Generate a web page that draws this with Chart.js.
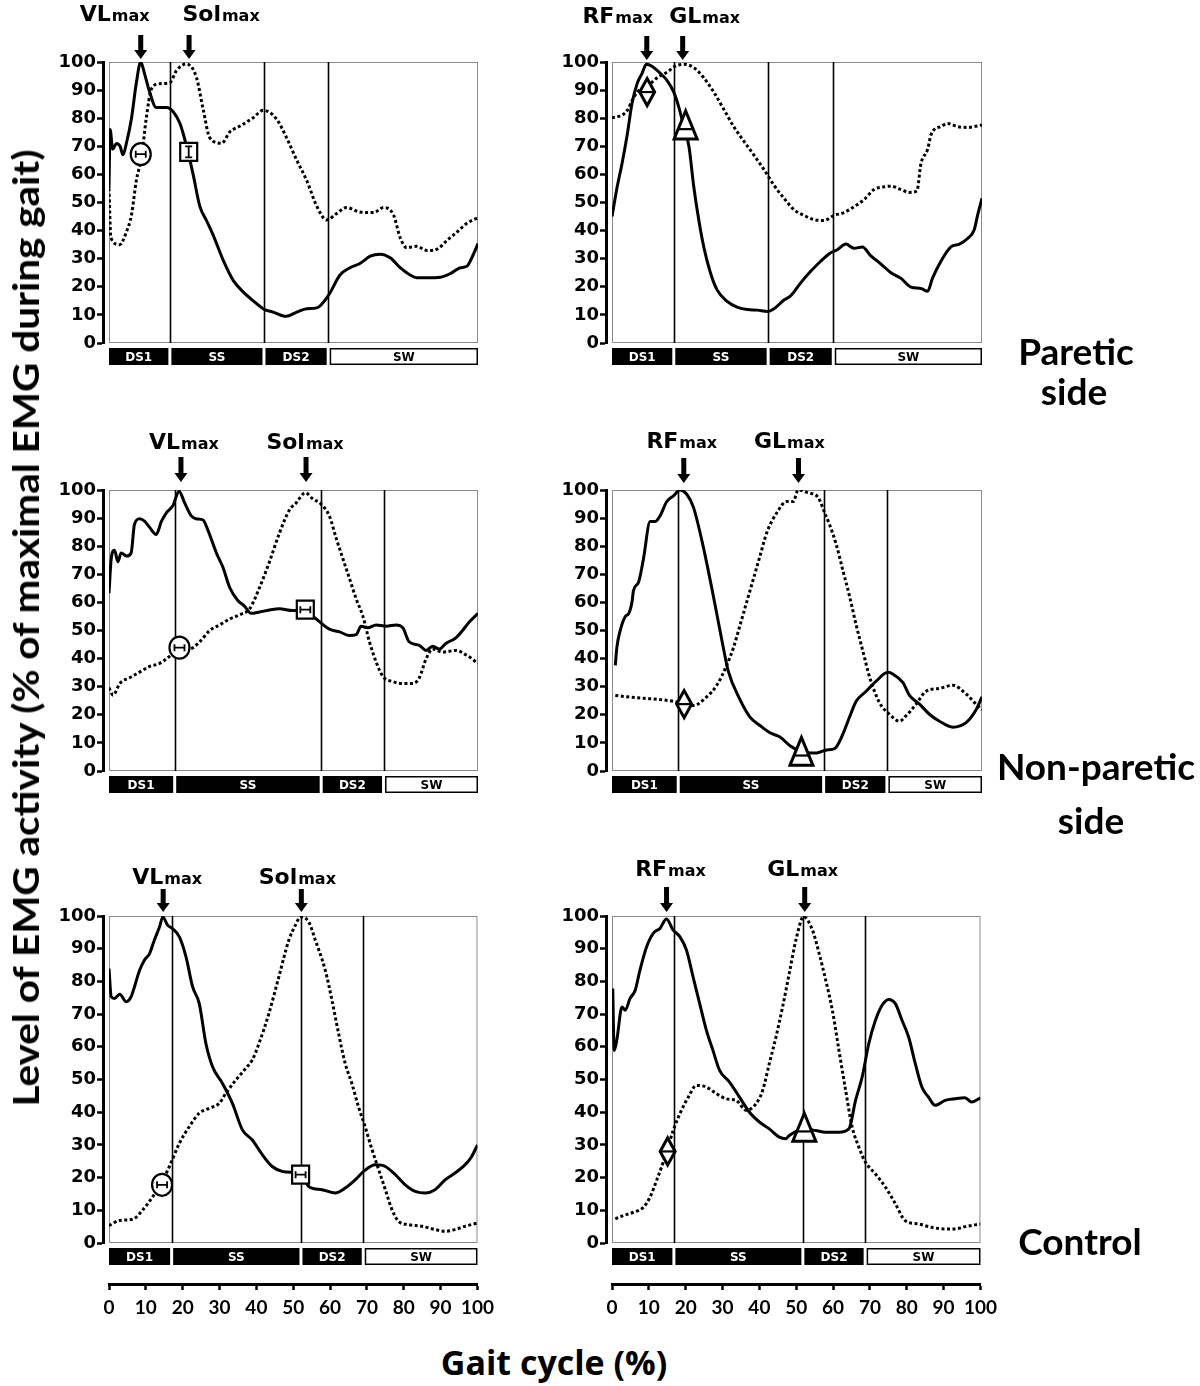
<!DOCTYPE html>
<html lang="en">
<head>
<meta charset="UTF-8">
<title>EMG activity during gait</title>
<script src="https://cdn.jsdelivr.net/npm/chart.js"></script>
<style>
  body { margin: 0; background: #fff; }
  #fig { position: relative; width: 1200px; height: 1386px; overflow: hidden; }
  #fig canvas { position: absolute; }
  .lbl { position: absolute; font-family: Lato, sans-serif; font-weight: 700; color: #000; white-space: nowrap; text-align: center; }
  .side { font-size: 37px; line-height: 40px; width: 240px; }
  #ytitle { font-size: 37px; line-height: 40px; transform-origin: center center; }
  #xtitle { font-family: 'Open Sans', sans-serif; font-size: 34px; line-height: 40px; width: 400px; left: 354px; top: 1342px; }
</style>
</head>
<body>
<div id="fig">
  <canvas id="tl"></canvas>
  <canvas id="tr"></canvas>
  <canvas id="ml"></canvas>
  <canvas id="mr"></canvas>
  <canvas id="bl"></canvas>
  <canvas id="br"></canvas>

  <div class="lbl side" style="left:956px;top:331px">Paretic</div>
  <div class="lbl side" style="left:954px;top:371px">side</div>
  <div class="lbl side" style="left:976px;top:746px">Non-paretic</div>
  <div class="lbl side" style="left:971px;top:800px">side</div>
  <div class="lbl side" style="left:960px;top:1221px">Control</div>

  <div class="lbl" id="ytitle">Level of EMG activity (% of maximal EMG during gait)</div>
  <div class="lbl" id="xtitle">Gait cycle (%)</div>
</div>

<script>
// axis ticks and phase names
const yTickValues = [0, 10, 20, 30, 40, 50, 60, 70, 80, 90, 100];
const xTickValues = [0, 10, 20, 30, 40, 50, 60, 70, 80, 90, 100];
const phaseNames = ['DS1', 'SS', 'DS2', 'SW'];
const leftMuscles = ['VL', 'Sol'];
const rightMuscles = ['RF', 'GL'];

// ---- paretic side ----
const tlVL = [[0,55],[0.3,76],[1,69],[2,71],[3,70],[3.8,67],[4.7,71],[6.1,80],[7.4,92.5],[8.6,100],[9.7,95.5],[11,89.4],[12.8,83.8],[15.6,83.8],[17.4,82.3],[19.2,78.2],[20,75],[21.4,68],[22.8,60],[24.6,48.7],[26.4,43.6],[28.2,38.5],[31,29.3],[33.7,22.2],[36.4,18.1],[39,15.1],[42,12],[44.5,11],[48,9.5],[50.9,11],[53.6,12.2],[56.3,12.5],[59.5,17],[62.6,24.2],[65.3,26.8],[68,28.3],[70.8,30.9],[73.5,31.6],[76.2,30.3],[78.9,26.8],[81.6,24.2],[83.4,23.2],[86.2,23.2],[89.8,23.4],[92.5,24.7],[95.2,26.8],[97,27.3],[98.7,31.4],[100,35.4]];
const tlSol = [[0,55],[0.5,37.5],[2.9,35],[4.7,39.5],[6.1,45.6],[7.4,57.8],[8.8,66],[10.1,80],[11.5,90.4],[13.8,92.3],[16.5,92.7],[18.3,97],[21,99.3],[23.7,94.5],[25.5,83.3],[27.3,73.1],[30.5,71.1],[32.8,75.2],[35.5,77.2],[39.1,80.2],[41.8,82.8],[45.4,79.7],[48.1,73.1],[50.9,65],[53.6,57.8],[56.3,48.7],[59,43.8],[61.7,46.1],[64.4,48.2],[68,46.6],[71.7,46.4],[74.4,48.2],[77.1,45.6],[78.9,37.5],[80.7,33.9],[83.4,34.4],[86.2,32.9],[88.9,33.4],[91.6,36.5],[94.3,39.5],[97,42.6],[100,44.6]];
const tlPhases = [16.5, 42.0, 59.4];
const tlPeaks = [8.6, 21.7];
const tlMarks = [[8.6, 67.2], [21.6, 68]];

const trRF = [[0,45],[1.4,55.6],[2.7,63.8],[4.1,74],[5.4,85.2],[6.8,92.3],[8.1,95.9],[9.3,99.2],[10.8,98.5],[13.1,95.9],[14.9,93.4],[16.7,89.3],[18,84.2],[19.4,77],[20.8,69.9],[22.1,55.6],[23.5,43.4],[24.8,34.2],[26.6,25],[28.4,18.9],[31.1,14.8],[33.8,12.8],[36.6,11.9],[39.3,11.7],[42,11.2],[43.8,12.2],[46.5,15.3],[48.3,16.8],[51,21.4],[53.7,25.5],[56.4,29.1],[59.1,32.1],[60.9,33.2],[63.2,35.2],[65.4,33.7],[67.7,34.2],[69.9,31.1],[72.7,28.1],[75.4,25],[78.1,23],[80.8,19.9],[83.5,19.4],[85.3,18.4],[86.6,23],[88.9,29.1],[91.6,34.2],[93.9,35.2],[96.1,37.2],[97.9,40.3],[98.8,45.4],[100,51.5]];
const trGL = [[0,80.1],[2.7,81.1],[4.1,82.7],[5.4,86.2],[6.8,89.3],[9.5,91.3],[12.2,94.4],[14.9,96.4],[17.1,98.5],[19.4,99.2],[22.1,98],[24.8,94.4],[27.5,89.3],[30.2,83.2],[32.9,77],[35.6,71.9],[38.4,66.8],[41.1,61.7],[43.8,56.1],[46.5,51.5],[49.2,47.4],[51.9,45.4],[54.6,43.9],[57.3,43.6],[60,45.4],[62.7,46.4],[65.4,48.5],[68.1,51],[70.8,54.6],[73.6,55.6],[75.4,55.8],[78.1,54.6],[80.3,53.6],[82.4,54.1],[83.5,63.8],[85.3,68.9],[86.2,74],[87.1,76],[88.9,77],[90.7,78.1],[93.4,77],[96.1,76.7],[100,77.6]];
const trPhases = [16.7, 42.2, 59.8];
const trPeaks = [9.4, 19.1];
const trMarks = [[9.5, 89.3], [19.9, 77.6]];

// ---- non-paretic side ----
const mlVL = [[0,63.3],[0.6,75.5],[1.5,78.6],[2.4,74.5],[3.3,77.6],[4.7,76.5],[6,77.6],[6.9,87.8],[8.3,89.8],[9.7,88.8],[11,86.7],[12.8,84.2],[14.2,88.8],[15.5,91.8],[17.3,94.4],[19,99.5],[20.5,95.4],[22.3,90.8],[23.6,89.8],[25.5,89.3],[26.8,85.7],[29.1,77.6],[30.9,72.4],[32.7,65.3],[34.9,60.7],[36.7,58.7],[38.5,56.1],[40.8,56.6],[43.5,57.3],[46.2,57.7],[49.8,57.1],[53.4,57.3],[55.7,54.6],[57.5,52.6],[59.7,50.5],[62.5,49.5],[65.2,48.2],[67,48.5],[68.3,51.5],[70.1,51],[72.4,52],[75.1,51.5],[77.8,52],[79.6,51],[81.4,45.9],[84.1,44.7],[85.9,42.9],[87.7,44.4],[89.5,43.4],[91.3,45.4],[94,47.4],[95.8,50],[97.7,53.1],[100,56.1]];
const mlSol = [[0,29.6],[1.1,27],[2.9,31.1],[5.6,33.2],[8.3,35.2],[11,37.2],[13.7,38.3],[16.4,40.8],[19,43.9],[21.8,43.4],[24.5,45.9],[27.3,50],[30,52],[32.7,54.1],[35.4,55.6],[38.1,57.7],[40.8,65.3],[43.5,74.5],[46.2,84.7],[48.9,92.9],[50.7,95.4],[53.2,99],[55.2,96.9],[57.5,94.9],[59.7,90.8],[61.6,82.7],[63.4,75.5],[65.2,68.4],[67,61.2],[68.8,55.1],[70.6,45.9],[72.4,38.8],[74.2,33.7],[76.9,31.8],[79.6,31.1],[82.3,31.1],[84.1,33.2],[85.9,39.8],[87.7,43.4],[90.4,42.3],[94,42.9],[96.8,41.3],[100,38.3]];
const mlPhases = [17.8, 57.5, 74.4];
const mlPeaks = [19.5, 53.4];
const mlMarks = [[19.1, 43.9], [53.2, 57.4]];

const mrRF = [[0.9,37.6],[1.3,43.8],[2.2,49.9],[3.6,55],[4.5,56],[5.4,60.1],[5.8,64.2],[7.2,67.3],[8.5,75.5],[10.3,88.8],[11.7,88.8],[13,90.8],[14.8,95.9],[16.6,97.9],[18.4,100],[20.2,98.5],[22,93.9],[24.7,79.6],[27.4,62.2],[30.1,43.8],[31.4,35.6],[34.6,25.4],[37.3,19.2],[40,16.2],[42.7,13.6],[45.4,12.1],[48.1,9],[51,7],[55.3,6.4],[58,7.5],[60.2,8],[62.4,13.1],[64.2,19.2],[66,24.8],[68.7,28.4],[71.4,32],[74.6,35.1],[75.9,34.5],[78.6,31.5],[80.4,26.9],[83.1,23.8],[85.8,20.2],[88.5,17.7],[92.1,15.6],[95.7,17.2],[98.4,21.8],[100,26.4]];
const mrGL = [[0.9,26.9],[4,26.4],[8.5,25.9],[13,25.4],[16.6,24.8],[19.5,23.8],[22,23.3],[25.6,26.4],[28.3,30.5],[31,37.6],[32.8,43.8],[34.6,51.9],[36.4,60.1],[38.2,68.3],[40,76.5],[41.8,84.7],[44.5,91.8],[47.2,95.9],[49,95.9],[50.3,100],[53,99],[55.7,97.4],[57.5,91.8],[58.8,87.7],[60.6,80.6],[62.4,71.4],[64.2,62.2],[66,51.9],[67.8,42.7],[69.6,33.5],[72.3,24.3],[75,20.2],[77.7,17.7],[79.5,19.7],[82.2,23.8],[84.9,28.4],[88.5,29.4],[92.1,30.5],[95.7,27.4],[98.4,23.8],[100,21.8]];
const mrPhases = [17.9, 57.2, 74.3];
const mrPeaks = [19.4, 50.4];
const mrMarks = [[19.5, 23.8], [51.2, 7]];

// ---- control ----
const blVL = [[0,83.9],[0.6,75.3],[1.5,74.8],[2.9,76.1],[4.7,73.8],[6,75.3],[6.9,78.3],[8.3,83.4],[9.6,86.5],[11,88.5],[12.3,92.6],[13.7,96.6],[14.6,99.7],[15.9,97.2],[17.3,96.1],[19.1,93.6],[20.9,87.5],[22.7,78.3],[24.5,73.2],[26.3,61],[28.1,53.9],[30.8,48.8],[33.5,42.7],[36.2,34.6],[38.9,31.5],[41.6,27],[44.3,23.4],[47,21.9],[49.7,21.6],[52,21.4],[54.2,17.3],[57.8,16.3],[61.4,15.3],[64.1,16.8],[66.8,19.3],[69.1,21.9],[72.3,23.9],[75,23.4],[77.7,20.9],[80.4,17.8],[83.1,15.8],[85.8,15.3],[88.5,16.3],[91.2,19.3],[93.9,21.4],[96.6,23.9],[98.4,26.4],[100,30]];
const blSol = [[0,5.3],[2.9,6.9],[6.5,7.3],[9.2,10.2],[11.9,14.2],[13.7,17.3],[16.4,23.4],[19.1,30.5],[21.8,35.6],[24.5,39.7],[27.2,41.2],[29.9,42.7],[31.7,45.8],[34.4,49.8],[37.1,53.4],[38.9,56],[40.7,61],[43.4,70.2],[46.1,81.4],[48.8,92.6],[50.6,97.2],[52,99.7],[54.2,98.2],[56,92.6],[58.7,83.4],[60.5,74.3],[62.3,64.1],[64.1,54.9],[65.9,48.8],[67.7,41.7],[69.5,35.6],[71.4,28.5],[73.2,22.4],[75,16.3],[76.8,10.2],[78.6,6.6],[81.3,5.6],[84.9,5.1],[88.5,4.1],[91.2,3.6],[93.9,4.1],[96.6,5.1],[100,6.1]];
const blPhases = [17.0, 52.1, 69.0];
const blPeaks = [14.7, 52.2];
const blMarks = [[14.4, 17.8], [52, 20.9]];

const brRF = [[0.2,77.8],[0.6,58.9],[1.3,62],[2.7,72.2],[3.6,71.2],[4.9,74.8],[6.3,77.3],[7.6,83.5],[9.4,90.6],[11.2,94.7],[13,96.2],[14.8,99.1],[16.6,95.7],[18.4,93.7],[20.2,89.6],[22,81.4],[23.8,73.2],[25.6,65.1],[27.4,58.9],[29.2,52.8],[31.9,49.2],[34.6,44.6],[37.3,40],[40,37],[42.7,34.9],[45.4,32.4],[47.2,31.9],[48.1,32.9],[52.2,34.9],[55.3,34.4],[58,33.9],[61.6,33.9],[64.3,34.9],[66.1,43.6],[67.9,50.8],[69.7,61],[71.5,68.1],[73.3,72.7],[75.1,74.5],[76.9,73.2],[78.7,68.1],[80.5,63],[82.3,54.9],[84.1,47.7],[85.9,44.6],[87.7,42.1],[90.4,43.6],[93.1,44.1],[95.8,44.4],[97.6,43.1],[100,44.4]];
const brGL = [[0.9,7.4],[3.1,8.4],[5.8,9.4],[8.5,10.9],[10.3,14],[12.1,19.1],[13.9,24.7],[14.8,27.8],[16.6,34.4],[18.4,39.5],[20.7,44.6],[22.9,48.2],[25.6,47.7],[28.3,45.7],[31,44.1],[33.7,43.6],[36.4,40.6],[39.1,42.6],[40.9,46.7],[42.7,54.9],[44.5,63],[46.3,72.2],[48.1,82.4],[49.9,92.6],[52,99.8],[54.4,95.7],[56.2,88.6],[58,80.4],[59.8,71.2],[61.6,58.9],[63.4,46.7],[65.2,35.4],[67,29.3],[68.8,24.7],[71.5,21.1],[74.2,17.1],[76.9,12],[79.6,6.8],[83.2,5.8],[86.7,4.8],[90.4,4.3],[93.1,4.3],[95.8,5],[100,5.8]];
const brPhases = [16.8, 51.8, 68.7];
const brPeaks = [14.8, 52.3];
const brMarks = [[15.1, 28], [52.2, 35.4]];

// layout (pixels)
const rows = [
  { top: 0,   h: 420, padTop: 62, gap: 31 },
  { top: 420, h: 430, padTop: 70, gap: 33 },
  { top: 850, h: 480, padTop: 66, gap: 41 }
];
const cols = [
  { left: 40,  padRight: 22, muscles: leftMuscles,  shapes: ['circle', 'square'] },
  { left: 543, padRight: 21, muscles: rightMuscles, shapes: ['diamond', 'triangle'] }
];

const panels = [
  { id: 'tl', row: 0, col: 0, solid: tlVL, dotted: tlSol, phases: tlPhases, peaks: tlPeaks, marks: tlMarks, shift: [-26, 32], arrowGap: 3, arrowLen: 24, rise: 41, vbar: [false, true] },
  { id: 'tr', row: 0, col: 1, solid: trRF, dotted: trGL, phases: trPhases, peaks: trPeaks, marks: trMarks, shift: [-29, 22], arrowGap: 2, arrowLen: 24, rise: 39 },
  { id: 'ml', row: 1, col: 0, solid: mlVL, dotted: mlSol, phases: mlPhases, peaks: mlPeaks, marks: mlMarks, shift: [3, -1], arrowGap: 8, arrowLen: 25, rise: 41 },
  { id: 'mr', row: 1, col: 1, solid: mrRF, dotted: mrGL, phases: mrPhases, peaks: mrPeaks, marks: mrMarks, shift: [-2, -9], arrowGap: 7, arrowLen: 25, rise: 42 },
  { id: 'bl', row: 2, col: 0, solid: blVL, dotted: blSol, phases: blPhases, peaks: blPeaks, marks: blMarks, shift: [4, -4], arrowGap: 4, arrowLen: 23, rise: 32 },
  { id: 'br', row: 2, col: 1, solid: brRF, dotted: brGL, phases: brPhases, peaks: brPeaks, marks: brMarks, shift: [4, -2], arrowGap: 4, arrowLen: 25, rise: 40 }
];

function drawMark(ctx, kind, cx, cy, vertical) {
  ctx.save();
  ctx.fillStyle = '#fff';
  ctx.strokeStyle = '#000';
  ctx.lineWidth = (kind === 'circle' || kind === 'square') ? 2.2 : 3;
  ctx.beginPath();
  if (kind === 'circle') {
    ctx.ellipse(cx, cy, 10, 11, 0, 0, Math.PI * 2);
  } else if (kind === 'square') {
    ctx.rect(cx - 8.5, cy - 9, 17, 18);
  } else if (kind === 'diamond') {
    ctx.moveTo(cx, cy - 13.5); ctx.lineTo(cx + 7.5, cy); ctx.lineTo(cx, cy + 13.5); ctx.lineTo(cx - 7.5, cy); ctx.closePath();
  } else {
    ctx.moveTo(cx, cy - 14); ctx.lineTo(cx + 11.5, cy + 14); ctx.lineTo(cx - 11.5, cy + 14); ctx.closePath();
  }
  ctx.fill();
  ctx.stroke();
  // the little error bar inside
  ctx.lineWidth = 1.8;
  ctx.beginPath();
  if (kind === 'circle' || kind === 'square') {
    if (vertical) {
      ctx.moveTo(cx, cy - 5.5); ctx.lineTo(cx, cy + 5.5);
      ctx.moveTo(cx - 3.5, cy - 5.5); ctx.lineTo(cx + 3.5, cy - 5.5);
      ctx.moveTo(cx - 3.5, cy + 5.5); ctx.lineTo(cx + 3.5, cy + 5.5);
    } else {
      ctx.moveTo(cx - 5, cy); ctx.lineTo(cx + 5, cy);
      ctx.moveTo(cx - 5, cy - 3.5); ctx.lineTo(cx - 5, cy + 3.5);
      ctx.moveTo(cx + 5, cy - 3.5); ctx.lineTo(cx + 5, cy + 3.5);
    }
  } else if (kind === 'diamond') {
    ctx.lineWidth = 2.2;
    ctx.moveTo(cx - 7.5, cy); ctx.lineTo(cx + 7.5, cy);
  } else {
    ctx.lineWidth = 2.2;
    ctx.moveTo(cx - 7.5, cy + 4.2); ctx.lineTo(cx + 7.5, cy + 4.2);
  }
  ctx.stroke();
  ctx.restore();
}

const panelDecor = {
  id: 'panelDecor',
  beforeDatasetsDraw(chart, args, o) {
    const { ctx, chartArea: a } = chart;
    const x = chart.scales.x;
    ctx.save();
    ctx.strokeStyle = '#8c8c8c';
    ctx.lineWidth = 1;
    ctx.strokeRect(a.left + 0.5, a.top + 0.5, a.width - 1, a.height - 1);
    // phase boundaries
    ctx.strokeStyle = '#000';
    ctx.lineWidth = 1.6;
    o.phases.forEach(v => {
      const px = Math.round(x.getPixelForValue(v)) + 0.5;
      ctx.beginPath();
      ctx.moveTo(px, a.top);
      ctx.lineTo(px, a.bottom);
      ctx.stroke();
    });
    ctx.restore();
  },
  afterDatasetsDraw(chart, args, o) {
    const { ctx } = chart;
    const x = chart.scales.x, y = chart.scales.y;
    o.marks.forEach((m, i) => {
      drawMark(ctx, o.shapes[i], x.getPixelForValue(m[0]), y.getPixelForValue(m[1]), o.vbar && o.vbar[i]);
    });
  },
  afterDraw(chart, args, o) {
    const { ctx, chartArea: a } = chart;
    const x = chart.scales.x;
    ctx.save();

    // phase bar under the plot
    const edges = [0, ...o.phases, 100];
    const y0 = a.bottom + 5, h = 17;
    ctx.font = 'bold 12px "DejaVu Sans"';
    ctx.textAlign = 'center';
    ctx.textBaseline = 'middle';
    for (let i = 0; i < 4; i++) {
      const l = x.getPixelForValue(edges[i]) + (i ? 1.5 : 0);
      const r = x.getPixelForValue(edges[i + 1]) - (i < 3 ? 1.5 : 0);
      if (i < 3) {
        ctx.fillStyle = '#000';
        ctx.fillRect(l, y0, r - l, h);
        ctx.fillStyle = '#fff';
      } else {
        ctx.strokeStyle = '#000';
        ctx.lineWidth = 1.5;
        ctx.strokeRect(l + 0.75, y0 + 0.75, r - l - 1.5, h - 1.5);
        ctx.fillStyle = '#000';
      }
      ctx.fillText(phaseNames[i], (l + r) / 2, y0 + h / 2 + 1);
    }

    // arrows and "max" labels
    ctx.fillStyle = '#000';
    o.peaks.forEach((v, i) => {
      const px = x.getPixelForValue(v);
      const yb = a.top - o.arrowGap, yt = yb - o.arrowLen;
      ctx.fillRect(px - 2.5, yt, 5, o.arrowLen - 8);
      ctx.beginPath();
      ctx.moveTo(px - 6.5, yb - 9);
      ctx.lineTo(px + 6.5, yb - 9);
      ctx.lineTo(px, yb);
      ctx.closePath();
      ctx.fill();

      const big = o.muscles[i];
      ctx.font = 'bold 22px "DejaVu Sans"';
      const wb = ctx.measureText(big).width;
      ctx.font = 'bold 16px "DejaVu Sans"';
      const ws = ctx.measureText('max').width;
      const lx = px + o.shift[i] - (wb + ws + 1) / 2;
      const base = a.top - o.rise;
      ctx.textAlign = 'left';
      ctx.textBaseline = 'alphabetic';
      ctx.font = 'bold 22px "DejaVu Sans"';
      ctx.fillText(big, lx, base);
      ctx.font = 'bold 16px "DejaVu Sans"';
      ctx.fillText('max', lx + wb + 1, base);
    });
    ctx.restore();
  }
};

function makeChart(p) {
  const row = rows[p.row], col = cols[p.col];
  const bottomRow = p.row === 2;
  const cv = document.getElementById(p.id);
  cv.width = 460;
  cv.height = row.h;
  cv.style.left = col.left + 'px';
  cv.style.top = row.top + 'px';

  const toXY = arr => arr.map(([x, y]) => ({ x, y }));

  new Chart(cv, {
    type: 'line',
    data: {
      datasets: [
        { data: toXY(p.solid), xAxisID: 'x', yAxisID: 'y', borderColor: '#000', borderWidth: 3,
          pointRadius: 0, cubicInterpolationMode: 'monotone' },
        { data: toXY(p.dotted), xAxisID: 'x', yAxisID: 'y', borderColor: '#000', borderWidth: 3,
          borderDash: [3, 2.5], pointRadius: 0, cubicInterpolationMode: 'monotone' }
      ]
    },
    options: {
      responsive: false,
      animation: false,
      devicePixelRatio: 1,
      layout: { padding: { top: row.padTop, right: col.padRight, left: 0, bottom: 0 } },
      plugins: {
        legend: { display: false },
        tooltip: { enabled: false },
        panelDecor: {
          phases: p.phases, peaks: p.peaks, marks: p.marks, shapes: col.shapes, muscles: col.muscles,
          shift: p.shift, arrowGap: p.arrowGap, arrowLen: p.arrowLen, rise: p.rise, vbar: p.vbar
        }
      },
      scales: {
        x: {
          type: 'linear', min: 0, max: 100, position: 'bottom', weight: 1, display: bottomRow,
          afterBuildTicks: s => { s.ticks = xTickValues.map(v => ({ value: v })); },
          afterFit: s => { s.height = 46; },
          border: { display: true, color: '#000', width: 3 },
          grid: { display: true, drawOnChartArea: false, tickLength: 6, tickWidth: 2.5, tickColor: '#000' },
          ticks: { color: '#000', font: { family: 'Lato', weight: 'bold', size: 19 }, padding: 6, maxRotation: 0, autoSkip: false }
        },
        gap: {
          type: 'linear', min: 0, max: 100, position: 'bottom', weight: 0,
          afterFit: s => { s.height = row.gap; },
          grid: { display: false }, ticks: { display: false }, border: { display: false }
        },
        y: {
          type: 'linear', min: 0, max: 100, position: 'left', weight: 1,
          afterBuildTicks: s => { s.ticks = yTickValues.map(v => ({ value: v })); },
          afterFit: s => { s.width = 63; },
          border: { display: true, color: '#000', width: 3 },
          grid: { display: true, drawOnChartArea: false, tickLength: 6, tickWidth: 2.5, tickColor: '#000' },
          ticks: { color: '#000', font: { family: 'DejaVu Sans', weight: 'bold', size: 18 }, padding: 1 }
        },
        ygap: {
          type: 'linear', min: 0, max: 100, position: 'left', weight: 0,
          afterFit: s => { s.width = 6; },
          grid: { display: false }, ticks: { display: false }, border: { display: false }
        }
      }
    },
    plugins: [panelDecor]
  });
}

panels.forEach(makeChart);

// rotated y title, stretched to the length it has in the figure
const yt = document.getElementById('ytitle');
const w = yt.offsetWidth;
yt.style.left = (25 - w / 2) + 'px';
yt.style.top = (628 - 20) + 'px';
yt.style.transform = 'rotate(-90deg) scaleX(' + (957 / w) + ')';
</script>
</body>
</html>
